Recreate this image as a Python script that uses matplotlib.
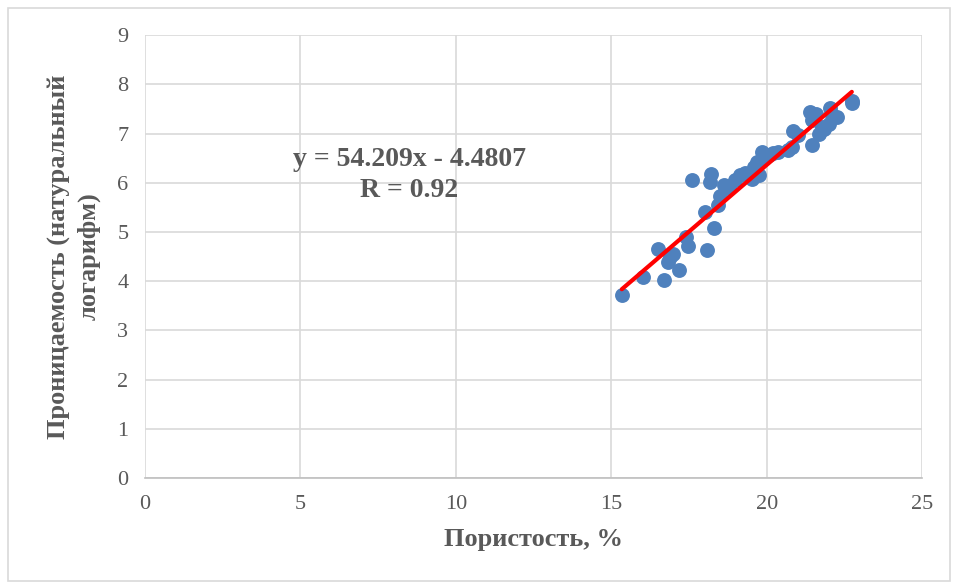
import numpy as np
import matplotlib.pyplot as plt
from matplotlib.patches import Rectangle

# porosity, % and natural log of permeability
porosity = [15.34, 16.02, 16.71, 16.52, 17.17, 16.90, 17.00, 16.84, 17.41, 17.46,
            18.08, 18.32, 18.02, 18.45, 18.50, 17.59, 18.22, 18.18, 18.64, 18.99,
            19.15, 19.52, 19.74, 19.84, 19.68, 19.58, 20.06, 20.38, 20.70, 20.81,
            20.86, 21.00, 21.45, 21.40, 21.45, 21.67, 21.77, 21.99, 22.04, 22.26,
            22.10, 22.74, 22.74, 19.30, 19.90, 20.20, 21.60, 21.85, 19.60, 18.80]
log_perm = [3.71, 4.08, 4.03, 4.65, 4.22, 4.49, 4.56, 4.39, 4.90, 4.71,
            4.63, 5.07, 5.40, 5.54, 5.74, 6.06, 6.17, 6.01, 5.95, 6.05,
            6.15, 6.08, 6.15, 6.62, 6.42, 6.32, 6.56, 6.62, 6.66, 6.73,
            7.06, 6.96, 6.76, 7.44, 7.27, 7.00, 7.13, 7.20, 7.51, 7.34,
            7.37, 7.67, 7.61, 6.20, 6.50, 6.60, 7.40, 7.10, 6.25, 5.90]

slope = 54.209
intercept = -4.4807
r_value = 0.92

gray = '#595959'
plt.rcParams['font.family'] = ['Liberation Serif', 'DejaVu Serif']

fig = plt.figure(figsize=(9.57, 5.85), dpi=100)
ax = fig.add_axes([0.1515, 0.183, 0.812, 0.757])

ax.scatter(porosity, log_perm, s=115, color='#4f81bd', zorder=3, linewidths=0)

x_fit = np.array([min(porosity), max(porosity)])
y_fit = slope * x_fit / 100 + intercept
ax.plot(x_fit, y_fit, color='#ff0000', lw=3, zorder=4, solid_capstyle='round')

ax.set_xlim(0, 25)
ax.set_ylim(0, 9)
ax.set_xticks(range(0, 26, 5))
ax.set_yticks(range(0, 10))
ax.grid(True, color='#d9d9d9', lw=1.2)
ax.set_axisbelow(True)
for side in ['top', 'right', 'left']:
    ax.spines[side].set_visible(False)
ax.spines['bottom'].set_color('#bfbfbf')
ax.spines['bottom'].set_linewidth(1.2)
ax.tick_params(axis='x', length=0, labelsize=16, labelcolor=gray, pad=12)
ax.tick_params(axis='y', length=0, labelsize=16, labelcolor=gray, pad=12)

ax.set_xlabel('Пористость, %', fontsize=19, fontweight='bold', color=gray, labelpad=10)
ax.set_ylabel('Проницаемость (натуральный\nлогарифм)', fontsize=19, fontweight='bold',
              color=gray, labelpad=12, linespacing=1.35)

ax.text(8.5, 6.15, f'y = {slope}x - {-intercept}\nR = {r_value}', ha='center', va='center',
        fontsize=20, fontweight='bold', color=gray, linespacing=1.3)

fig.patches.append(Rectangle((0.008, 0.006), 0.985, 0.98, transform=fig.transFigure,
                             fill=False, edgecolor='#d9d9d9', lw=1.2))

fig.savefig('out.png', dpi=100)
